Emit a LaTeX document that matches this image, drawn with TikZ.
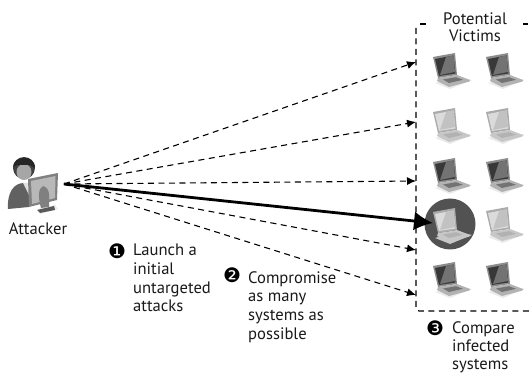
\documentclass[tikz,border=0pt]{standalone}
\usepackage{fontspec}
\setmainfont{PT Sans}
\newfontfamily\symfont{DejaVu Sans}
\usetikzlibrary{arrows.meta}
\tikzset{
  x=1pt,y=-1pt,
  lbl/.style={font=\fontsize{16.6}{18.7}\selectfont,align=left,anchor=north west,inner sep=0pt,text=black!90},
  lbltight/.style={lbl,font=\fontsize{16.6}{18}\selectfont},
  num/.style={font=\symfont\fontsize{20}{22}\selectfont,inner sep=0pt},
  dashln/.style={draw=black,line width=1.1pt,dash pattern=on 6pt off 4.5pt},
  atk/.style={dashln,-{Latex[length=9pt,width=8pt]}},
  bigarrow/.style={draw=black,line width=2.8pt,-{Latex[length=19pt,width=19pt]}},
  pics/laptop/.style n args={5}{code={
    \fill[black!10,opacity=.8] (3,30) -- (25,24) -- (40,27) -- (18,36) -- cycle;
    \fill[black!#1!white] (1,4) -- (23,0) -- (25,22) -- (6,25) -- cycle;
    \fill[black!#2!white] (3,6) -- (21.5,2.5) -- (23.5,20.5) -- (7,23) -- cycle;
    \fill[black!#3!white] (14,4) -- (21.5,2.5) -- (23,19) -- (8,22) -- cycle;
    \fill[black!#4!white] (6,25) -- (25,22) -- (38,27) -- (37.5,28.5) -- (17,34) -- (5,28) -- cycle;
    \fill[black!#5!white] (11,26.5) -- (24,24.2) -- (31,26.8) -- (17,30) -- cycle;
  }}
}
\begin{document}
\begin{tikzpicture}
\useasboundingbox (0,0) rectangle (531,374);
% victims box
\draw[dashln] (426,24) -- (420,24);
\draw[dashln,rounded corners=3pt] (416,28) -- (416,311) -- (531,311);
\draw[dashln] (523,24) -- (528,24);
\node[font=\fontsize{16.6}{17.5}\selectfont,align=center,inner sep=0pt,text=black!90] (victims) at (475,27) {Potential\\Victims};
% laptops
\foreach \py in {53,158,262}{
  \pic at (432,\py) {laptop={45}{78}{55}{30}{55}};
  \pic at (485,\py) {laptop={45}{78}{55}{30}{55}};
}
\pic at (432,108) {laptop={33}{14}{24}{22}{30}};
\pic at (485,108) {laptop={33}{14}{24}{22}{30}};
\pic at (485,207) {laptop={33}{14}{24}{22}{30}};
\node[circle,fill=black!68,minimum size=51pt,inner sep=0pt] (hit) at (450,224) {};
\pic at (432,208) {laptop={33}{14}{24}{22}{30}};
% attacker
\node[inner sep=0pt,minimum width=58pt,minimum height=62pt] (attacker) at (33,185) {};
\coordinate (src) at (64,184);
\fill[black!62] (8,209) .. controls (7,192) and (14,183) .. (24,183) .. controls (30,183) and (32,186) .. (36,190) -- (29,207) -- cycle;
\fill[black!12] (23,183) -- (30,183) -- (33,188) -- (29,195) -- cycle;
\fill[black!75] (24,168) circle[radius=11pt];
\fill[black!35] (24,172) ellipse[x radius=7.5pt,y radius=8pt];
\fill[black!85] (13,167) .. controls (13,156) and (35,153) .. (35,168) -- (30,165) -- (17,165) -- cycle;
\fill[black!8] (38,209) -- (55,205) -- (58,209) -- (40,214) -- cycle;
\fill[black!65] (37,210) -- (54,206) -- (55,210) -- (40,213) -- cycle;
\fill[black!50] (28,179) -- (58,173) -- (57,200) -- (29,207) -- cycle;
\fill[black!28] (31,181) -- (55.5,176) -- (55,198) -- (32,204) -- cycle;
\fill[black!50] (43,186) .. controls (38,188) and (38,198) .. (41,208) -- (49,207) .. controls (49,198) and (51,188) .. (43,186) -- cycle;
\node[lbl,anchor=center] (attackerlbl) at (38,229) {Attacker};
% targets
\coordinate (t1) at (416,62);
\coordinate (t2) at (416,122);
\coordinate (t3) at (416,181);
\coordinate (t5) at (416,250);
\coordinate (t6) at (416,295);
\coordinate (t4) at (433,223);
\foreach \t in {t1,t2,t3,t5,t6}{ \draw[atk] (src) -- (\t); }
\draw[bigarrow] (src) -- (t4);
% notes
\node[num] (n1) at (117,251) {❶};
\node[lbl] (l1) at (133,244) {Launch a\\initial\\untargeted\\attacks};
\node[num] (n2) at (232,275) {❷};
\node[lbl] (l2) at (248,271) {Compromise\\as many\\systems as\\possible};
\node[num] (n3) at (435,328) {❸};
\node[lbltight] (l3) at (452,321.5) {Compare\\infected\\systems};
\end{tikzpicture}
\end{document}
